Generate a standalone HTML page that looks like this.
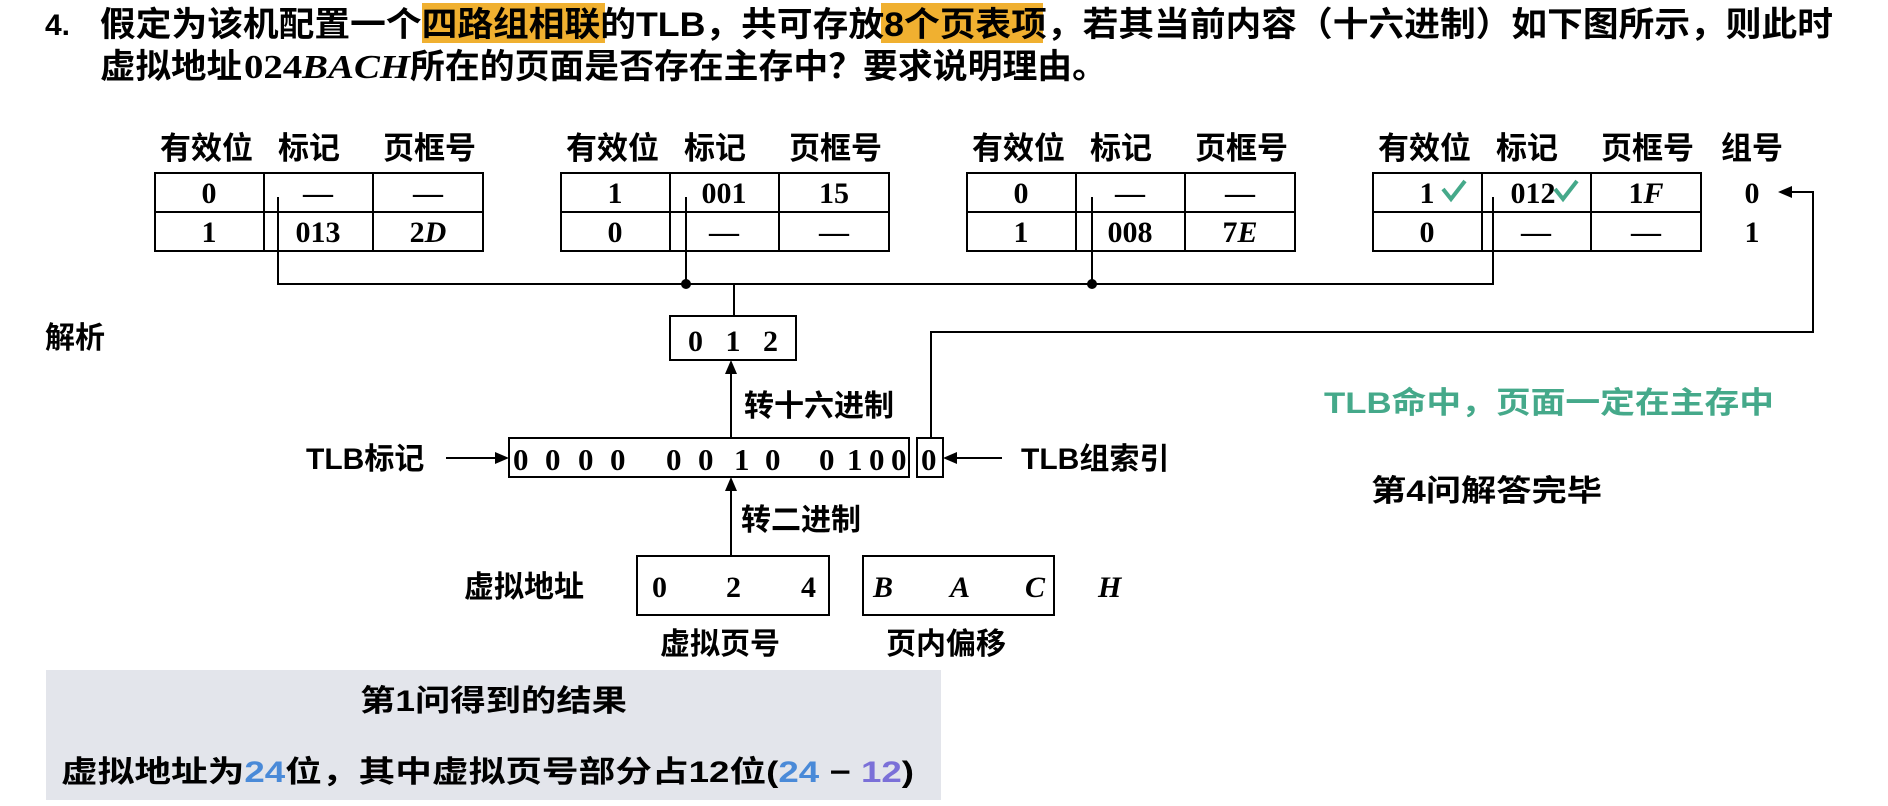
<!DOCTYPE html>
<html><head><meta charset="utf-8"><style>
html,body{margin:0;padding:0;background:#fff;}
svg{display:block;}
.cj{font-family:"Liberation Sans","Noto Sans CJK SC",sans-serif;font-weight:bold;}
.sf{font-family:"Liberation Serif","Noto Serif CJK SC",serif;font-weight:bold;}
</style></head><body>
<svg width="1888" height="806" viewBox="0 0 1888 806" xmlns="http://www.w3.org/2000/svg">
<rect x="422" y="3" width="183" height="40" fill="#f0b030"/>
<rect x="881" y="3" width="162" height="40" fill="#f0b030"/>
<text x="45" y="35" class="cj" font-size="30">4.</text>
<text x="100" y="36" class="cj" font-size="34" textLength="1733" lengthAdjust="spacingAndGlyphs">假定为该机配置一个四路组相联的TLB，共可存放8个页表项，若其当前内容（十六进制）如下图所示，则此时</text>
<text x="100" y="78" class="cj" font-size="34" textLength="142" lengthAdjust="spacingAndGlyphs">虚拟地址</text>
<text x="244" y="78" class="sf" font-size="34" textLength="166" lengthAdjust="spacingAndGlyphs">024<tspan font-style="italic">BACH</tspan></text>
<text x="410" y="78" class="cj" font-size="34" textLength="697" lengthAdjust="spacingAndGlyphs">所在的页面是否存在主存中？要求说明理由。</text>

<g stroke="#000" stroke-width="2" fill="none">
<g id="t1">
<rect x="155" y="173" width="328" height="78"/><line x1="155" y1="212" x2="483" y2="212"/><line x1="264" y1="173" x2="264" y2="251"/><line x1="373" y1="173" x2="373" y2="251"/>
</g>
<use href="#t1" x="406"/><use href="#t1" x="812"/><use href="#t1" x="1218"/>
<polyline points="278,197 278,284 1493,284 1493,197"/>
<line x1="686" y1="197" x2="686" y2="284"/>
<line x1="1092" y1="197" x2="1092" y2="284"/>
<line x1="734" y1="284" x2="734" y2="316"/>
<rect x="670" y="316" width="126" height="44"/>
<rect x="509" y="438" width="400" height="39"/>
<rect x="917" y="438" width="26" height="39"/>
<polyline points="931,438 931,332 1813,332 1813,192 1790,192"/>
<line x1="731" y1="438" x2="731" y2="372"/>
<line x1="731" y1="556" x2="731" y2="489"/>
<line x1="446" y1="458" x2="498" y2="458"/>
<line x1="1002" y1="458" x2="954" y2="458"/>
<rect x="637" y="556" width="192" height="59"/>
<rect x="863" y="556" width="191" height="59"/>
</g>
<g fill="#000">
<circle cx="686" cy="284" r="5"/><circle cx="1092" cy="284" r="5"/>
<polygon points="1778,192 1792,186 1792,198"/>
<polygon points="731,360 725,374 737,374"/>
<polygon points="731,477 725,491 737,491"/>
<polygon points="509,458 495,452 495,464"/>
<polygon points="943,458 957,452 957,464"/>
</g>

<g class="cj" font-size="31">
<text x="160" y="159">有效位</text><text x="278" y="159">标记</text><text x="383" y="159">页框号</text>
<text x="566" y="159">有效位</text><text x="684" y="159">标记</text><text x="789" y="159">页框号</text>
<text x="972" y="159">有效位</text><text x="1090" y="159">标记</text><text x="1195" y="159">页框号</text>
<text x="1378" y="159">有效位</text><text x="1496" y="159">标记</text><text x="1601" y="159">页框号</text>
<text x="1721" y="159">组号</text>
</g>
<g class="sf" font-size="30" text-anchor="middle">
<text x="209" y="203">0</text><text x="318" y="203">—</text><text x="428" y="203">—</text>
<text x="209" y="242">1</text><text x="318" y="242">013</text><text x="428" y="242">2<tspan font-style="italic">D</tspan></text>
<text x="615" y="203">1</text><text x="724" y="203">001</text><text x="834" y="203">15</text>
<text x="615" y="242">0</text><text x="724" y="242">—</text><text x="834" y="242">—</text>
<text x="1021" y="203">0</text><text x="1130" y="203">—</text><text x="1240" y="203">—</text>
<text x="1021" y="242">1</text><text x="1130" y="242">008</text><text x="1240" y="242">7<tspan font-style="italic">E</tspan></text>
<text x="1427" y="203">1</text><text x="1533" y="203">012</text><text x="1646" y="203">1<tspan font-style="italic">F</tspan></text>
<text x="1427" y="242">0</text><text x="1536" y="242">—</text><text x="1646" y="242">—</text>
<text x="1752" y="203">0</text><text x="1752" y="242">1</text>
<text x="733" y="351" textLength="90" lengthAdjust="spacing">0 1 2</text>
</g>
<g stroke="#45a98a" stroke-width="4" fill="none">
<polyline points="1443,189 1451,199 1465,181"/>
<polyline points="1555,189 1563,199 1577,181"/>
</g>
<text y="470" class="sf" font-size="31"><tspan x="513">0</tspan><tspan x="545">0</tspan><tspan x="578">0</tspan><tspan x="610">0</tspan><tspan x="666">0</tspan><tspan x="698">0</tspan><tspan x="734">1</tspan><tspan x="765">0</tspan><tspan x="819">0</tspan><tspan x="847">1</tspan><tspan x="869">0</tspan><tspan x="891">0</tspan></text>
<text x="921" y="470" class="sf" font-size="31">0</text>
<g class="sf" font-size="30">
<text x="652" y="597">0</text><text x="726" y="597">2</text><text x="801" y="597">4</text>
<text x="873" y="597" font-style="italic">B</text><text x="950" y="597" font-style="italic">A</text><text x="1025" y="597" font-style="italic">C</text>
<text x="1098" y="597" font-style="italic">H</text>
</g>
<g class="cj" font-size="30">
<text x="45" y="348">解析</text>
<text x="744" y="416">转十六进制</text>
<text x="741" y="530">转二进制</text>
<text x="306" y="469">TLB标记</text>
<text x="1021" y="469">TLB组索引</text>
<text x="464" y="597">虚拟地址</text>
<text x="660" y="654">虚拟页号</text>
<text x="886" y="654">页内偏移</text>
<text x="1324" y="413" fill="#45a98a" textLength="450" lengthAdjust="spacingAndGlyphs">TLB命中，页面一定在主存中</text>
<text x="1371" y="501" textLength="231" lengthAdjust="spacingAndGlyphs">第4问解答完毕</text>
</g>
<rect x="46" y="670" width="895" height="130" fill="#e3e5eb"/>
<text x="360" y="711" class="cj" font-size="30" textLength="267" lengthAdjust="spacingAndGlyphs">第1问得到的结果</text>
<text x="61" y="782" class="cj" font-size="30" textLength="853" lengthAdjust="spacingAndGlyphs">虚拟地址为<tspan fill="#4a8ad8">24</tspan>位，其中虚拟页号部分占12位(<tspan fill="#4a8ad8">24</tspan> − <tspan fill="#7b70d8">12</tspan>)</text>
</svg>
</body></html>
